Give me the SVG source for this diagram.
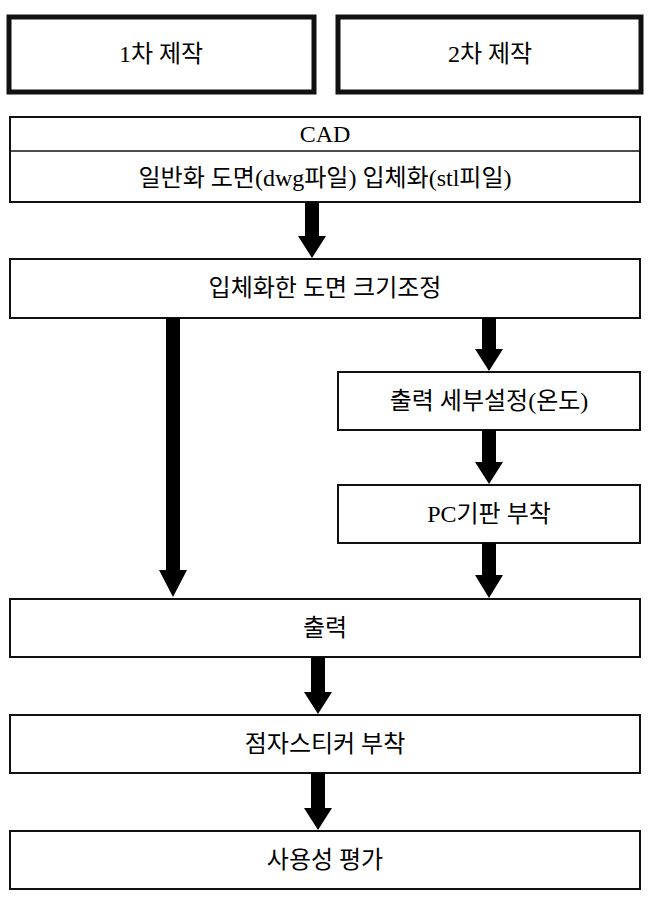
<svg xmlns="http://www.w3.org/2000/svg" width="656" height="897" viewBox="0 0 656 897">
<style>
.b{fill:#fff;stroke:#111;stroke-width:2}
.t{fill:#fff;stroke:#111;stroke-width:5}
text{font-family:"Liberation Serif","Noto Sans CJK KR",serif;font-size:24px;fill:#000;text-anchor:middle;dominant-baseline:central}
</style>
<rect width="656" height="897" fill="#fff"/>
<g id="h1"><rect class="t" x="9" y="17" width="305" height="75"/><text x="161" y="54">1차 제작</text></g>
<g id="h2"><rect class="t" x="338" y="17" width="303" height="75"/><text x="490" y="54">2차 제작</text></g>
<g id="cad"><rect class="b" x="10" y="117" width="630" height="85"/><line x1="10" y1="151" x2="640" y2="151" stroke="#111" stroke-width="1.5"/><text x="325" y="134">CAD</text><text x="325" y="178">일반화 도면(dwg파일) 입체화(stl피일)</text></g>
<g id="n1"><rect class="b" x="10" y="259" width="630" height="59"/><text x="325" y="288">입체화한 도면 크기조정</text></g>
<g id="n2"><rect class="b" x="338" y="372" width="302" height="58"/><text x="489" y="401">출력 세부설정(온도)</text></g>
<g id="n3"><rect class="b" x="338" y="485" width="302" height="58"/><text x="489" y="514">PC기판 부착</text></g>
<g id="n4"><rect class="b" x="10" y="599" width="630" height="58"/><text x="325" y="628">출력</text></g>
<g id="n5"><rect class="b" x="10" y="715" width="630" height="58"/><text x="325" y="744">점자스티커 부착</text></g>
<g id="n6"><rect class="b" x="10" y="831" width="630" height="58"/><text x="325" y="860">사용성 평가</text></g>
<g id="connectors" fill="#000">
<path d="M305,202 H319 V236 H326 L312,258 L298,236 H305 Z"/>
<path d="M166,318 H180 V570 H187 L173,597 L159,570 H166 Z"/>
<path d="M482,318 H496 V349 H503 L489,371 L475,349 H482 Z"/>
<path d="M482,430 H496 V462 H503 L489,484 L475,462 H482 Z"/>
<path d="M482,543 H496 V575 H503 L489,598 L475,575 H482 Z"/>
<path d="M311,657 H325 V692 H332 L318,714 L304,692 H311 Z"/>
<path d="M311,773 H325 V808 H332 L318,830 L304,808 H311 Z"/>
</g>
</svg>
